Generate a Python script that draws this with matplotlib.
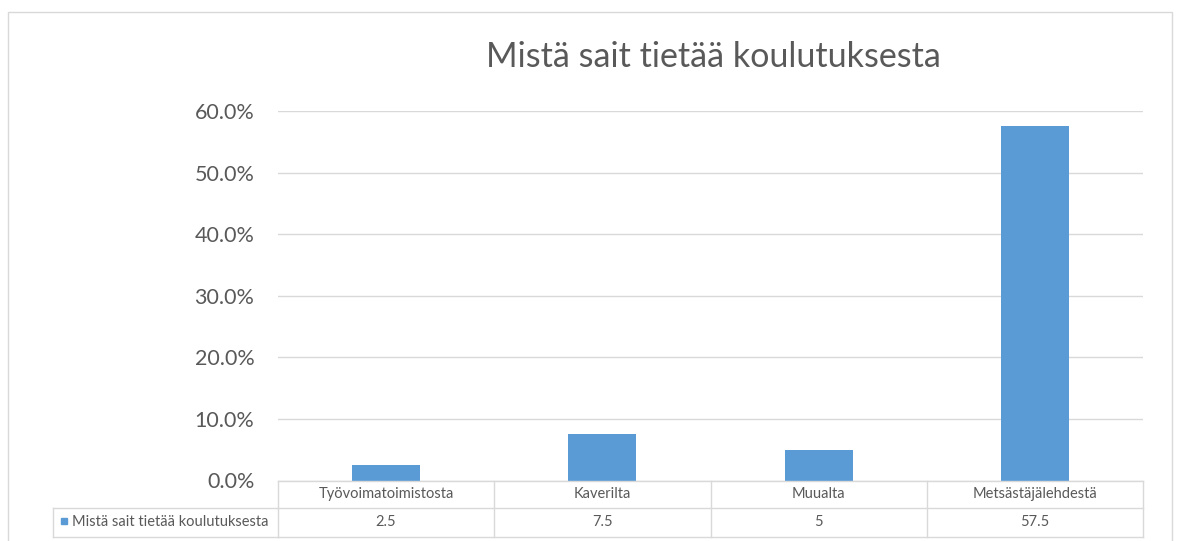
import matplotlib
matplotlib.use("Agg")
import matplotlib.pyplot as plt
from matplotlib.patches import Rectangle
from matplotlib.lines import Line2D
from matplotlib.transforms import blended_transform_factory
from matplotlib.ticker import FuncFormatter, MultipleLocator

plt.rcParams['font.family'] = ['Lato', 'DejaVu Sans']

title = "Mistä sait tietää koulutuksesta"
series_name = "Mistä sait tietää koulutuksesta"
categories = ["Työvoimatoimistosta", "Kaverilta", "Muualta", "Metsästäjälehdestä"]
values = [2.5, 7.5, 5, 57.5]
value_labels = ["2.5", "7.5", "5", "57.5"]

TEXT = "#595959"
GRID = "#D9D9D9"
BAR = "#5B9BD5"

W, H = 1181, 541
fig = plt.figure(figsize=(W / 100, H / 100), dpi=100)

# outer chart border
fig.patches.append(Rectangle((8 / W, -0.05), (1172 - 8) / W, 1 - 12 / H + 0.05,
                             transform=fig.transFigure, fill=False,
                             edgecolor=GRID, lw=1.0))

left, right, bottom, top = 278, 1143, 480.5, 111
ax = fig.add_axes([left / W, 1 - bottom / H, (right - left) / W, (bottom - top) / H])

x = list(range(len(categories)))
ax.bar(x, values, width=0.315, color=BAR, zorder=3)
ax.set_xlim(-0.5, len(categories) - 0.5)
ax.set_ylim(0, 60)
ax.yaxis.set_major_locator(MultipleLocator(10))
ax.yaxis.set_major_formatter(FuncFormatter(lambda v, p: f"{v:.1f}%"))
ax.grid(axis='y', color=GRID, lw=1.0, zorder=0)
ax.set_xticks([])
ax.tick_params(axis='y', length=0, pad=17, labelsize=15.5, labelcolor=TEXT)
for s in ax.spines.values():
    s.set_visible(False)

fig.text(713 / W, 1 - 67 / H, title, ha='center', va='baseline',
         fontsize=24.5, color=TEXT)

# data table
plot_h = bottom - top
plot_w = right - left
tr = blended_transform_factory(ax.transData, ax.transAxes)
tra = ax.transAxes
y_head = 0.0
y_mid = -(508 - bottom) / plot_h
y_bot = -(536.7 - bottom) / plot_h
x_lab = -(left - 52.7) / plot_w

def line(xs, ys, t):
    ax.add_line(Line2D(xs, ys, transform=t, color=GRID, lw=1.0, clip_on=False, zorder=4))

n = len(categories)
line([-0.5, n - 0.5], [y_head, y_head], tr)
line([0, 1], [y_mid, y_mid], tra)
line([x_lab, 0], [y_mid, y_mid], tra)
line([0, 1], [y_bot, y_bot], tra)
line([x_lab, 0], [y_bot, y_bot], tra)
line([x_lab, x_lab], [y_mid, y_bot], tra)
for i in range(n + 1):
    line([i - 0.5, i - 0.5], [y_head, y_bot], tr)

FS = 10.5
for i, (c, v) in enumerate(zip(categories, value_labels)):
    ax.text(i, (y_head + y_mid) / 2, c, transform=tr, ha='center', va='center',
            fontsize=FS, color=TEXT, clip_on=False)
    ax.text(i, (y_mid + y_bot) / 2, v, transform=tr, ha='center', va='center',
            fontsize=FS, color=TEXT, clip_on=False)

sq = 6.8
ax.add_patch(Rectangle((-(left - 60.7) / plot_w, -(524.3 - bottom) / plot_h),
                       sq / plot_w, sq / plot_h, transform=tra, color=BAR,
                       clip_on=False))
ax.text(-(left - 72.5) / plot_w, (y_mid + y_bot) / 2, series_name, transform=tra,
        ha='left', va='center', fontsize=FS, color=TEXT, clip_on=False)

fig.savefig("out.png", dpi=100)
